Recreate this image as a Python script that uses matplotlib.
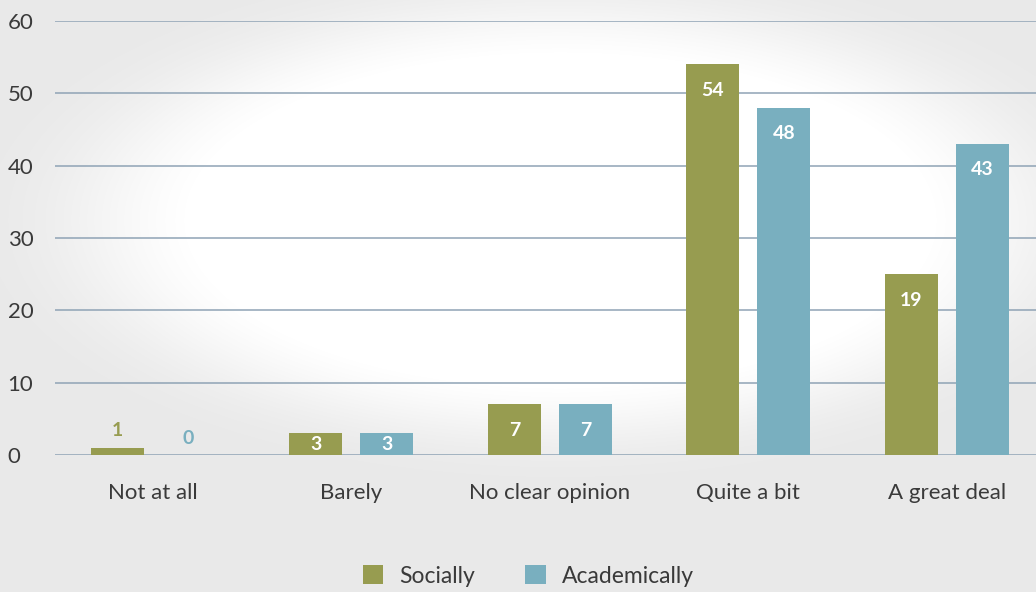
import numpy as np
import matplotlib.pyplot as plt

categories = ["Not at all", "Barely", "No clear opinion", "Quite a bit", "A great deal"]
socially = [1, 3, 7, 54, 25]
academically = [0, 3, 7, 48, 43]
socially_labels = ["1", "3", "7", "54", "19"]
academically_labels = ["0", "3", "7", "48", "43"]

green = "#979c50"
blue = "#79afbf"

plt.rcParams['font.family'] = ['Lato', 'DejaVu Sans']

fig = plt.figure(figsize=(10.36, 5.92), dpi=100)
fig.patch.set_facecolor("#e9e9e9")

# soft white blob behind the chart
bg = fig.add_axes([0, 0, 1, 1], zorder=-10)
yy, xx = np.mgrid[0:592, 0:1036]
blob = np.exp(-(((xx - 560) / 470.0) ** 2 + ((yy - 220) / 210.0) ** 2) ** 3)
img = np.ones((592, 1036, 4))
img[..., 3] = np.clip(blob * 1.3, 0, 1)
bg.set_facecolor("#e9e9e9")
bg.imshow(img, extent=[0, 1, 0, 1], aspect="auto")
bg.set_xlim(0, 1)
bg.set_ylim(0, 1)
bg.axis("off")

ax = fig.add_axes([0.053, 0.2314, 0.947, 0.7331])
ax.patch.set_alpha(0)

x = np.arange(len(categories))
w = 0.267
off = 0.179
b1 = ax.bar(x - off, socially, w, color=green, label="Socially", zorder=3)
b2 = ax.bar(x + off, academically, w, color=blue, label="Academically", zorder=3)

for bars, labels, col in [(b1, socially_labels, green), (b2, academically_labels, blue)]:
    for rect, lab in zip(bars, labels):
        h = rect.get_height()
        cx = rect.get_x() + rect.get_width() / 2
        if h > 5:
            ax.annotate(lab, (cx, h), xytext=(0, -26), textcoords="offset pixels",
                        ha="center", va="center", color="white", fontsize=14, fontweight="bold", zorder=4)
        elif h >= 3:
            ax.text(cx, h / 2, lab, ha="center", va="center", color="white",
                    fontsize=14, fontweight="bold", zorder=4)
        else:
            ax.annotate(lab, (cx, h), xytext=(0, 17), textcoords="offset pixels",
                        ha="center", va="center", color=col, fontsize=14, fontweight="bold", zorder=4)

ax.set_ylim(0, 60)
ax.set_xlim(-0.494, 4.45)
ax.set_yticks(range(0, 61, 10))
ax.yaxis.grid(True, color="#8fa3b5", linewidth=1.1, zorder=1)
ax.set_axisbelow(True)
ax.set_xticks(x)
ax.set_xticklabels(categories)
ax.tick_params(axis="both", length=0, labelsize=16, colors="#3a3a3a")
ax.tick_params(axis="x", pad=20)
ax.tick_params(axis="y", pad=34)
for lab in ax.get_yticklabels():
    lab.set_horizontalalignment("left")
for s in ax.spines.values():
    s.set_visible(False)

fig.legend(handles=[b1, b2], labels=["Socially", "Academically"], loc="center",
           bbox_to_anchor=(0.51, 0.027), ncol=2, frameon=False, fontsize=16.5,
           handlelength=0.9, handleheight=0.9, columnspacing=2.2, handletextpad=0.7,
           labelcolor="#3a3a3a")

plt.savefig("out.png", dpi=100, facecolor=fig.get_facecolor())
